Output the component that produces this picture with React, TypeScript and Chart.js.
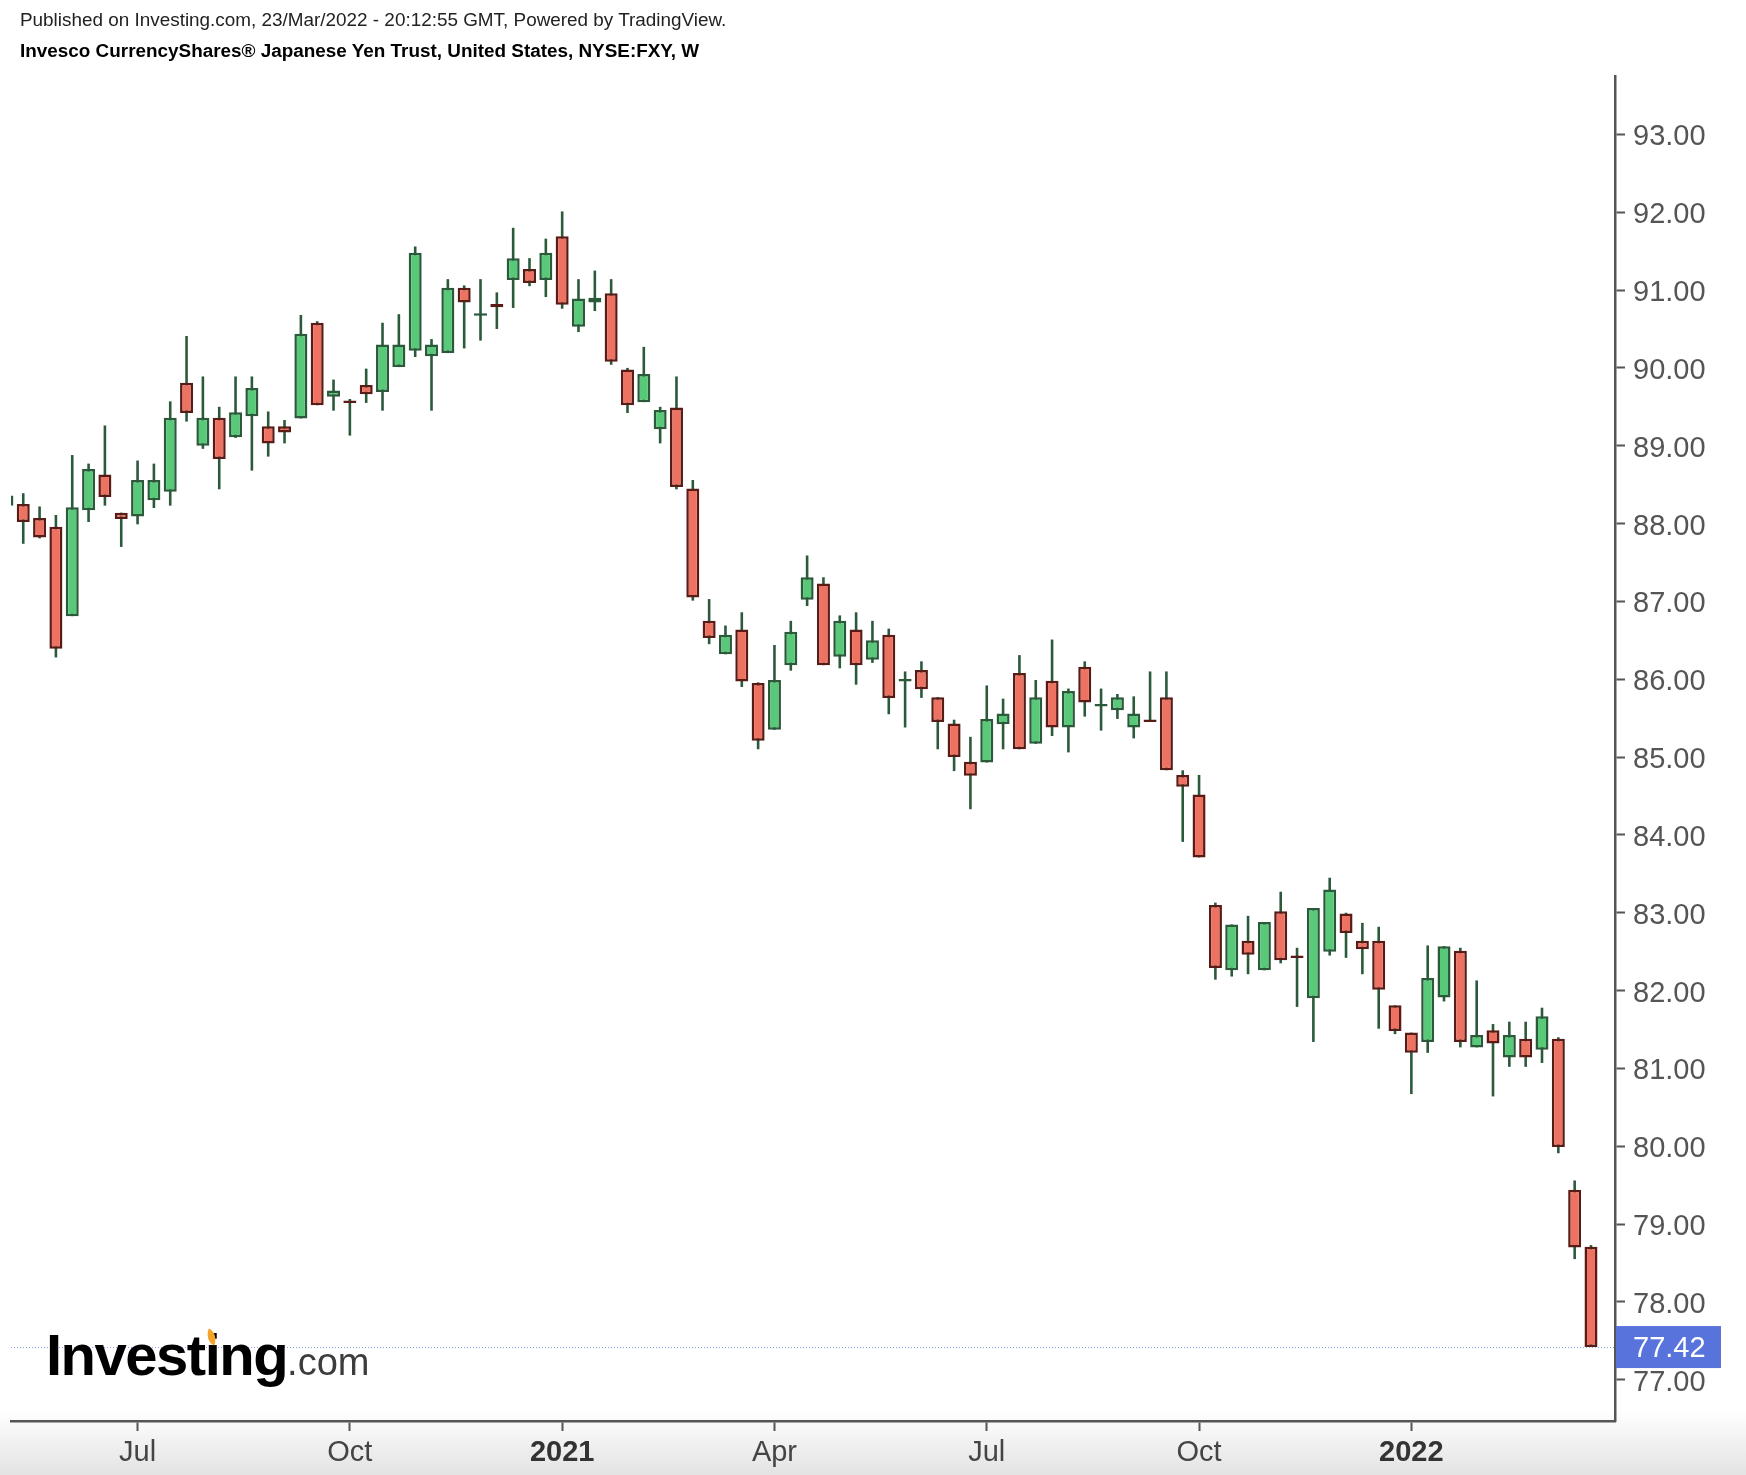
import React, { useEffect, useRef } from 'react';
import { Chart, registerables } from 'chart.js';

Chart.register(...registerables);

// Weekly bars, first bar = week of 11 May 2020, last bar = week of 21 Mar 2022
const firstWeek = '2020-05-11';
const openV = [
  88.23, 88.25, 88.07, 87.96, 86.81, 88.17, 88.63, 88.14, 88.09, 88.30,
  88.41, 89.81, 89.00, 89.36, 89.11, 89.38, 89.25, 89.25, 89.35, 90.58,
  89.63, 89.57, 89.78, 89.69, 90.01, 90.22, 90.15, 90.19, 91.03, 90.67,
  90.82, 91.13, 91.27, 91.13, 91.69, 90.53, 90.84, 90.96, 89.98, 89.56,
  89.21, 89.49, 88.45, 86.75, 86.32, 86.64, 85.95, 85.35, 86.18, 87.02,
  87.23, 86.29, 86.64, 86.25, 86.57, 85.97, 86.12, 85.77, 85.43, 84.94,
  84.93, 85.42, 86.08, 85.17, 85.98, 85.38, 86.16, 85.65, 85.60, 85.38,
  85.47, 85.77, 84.77, 84.52, 83.10, 82.26, 82.64, 82.26, 83.02, 82.44,
  81.90, 82.50, 82.99, 82.64, 82.64, 81.81, 81.46, 81.34, 81.91, 82.51,
  81.27, 81.49, 81.14, 81.38, 81.24, 81.38, 79.44, 78.71,
];
const highV = [
  88.40, 88.39, 88.22, 88.11, 88.88, 88.77, 89.26, 88.14, 88.81, 88.77,
  89.57, 90.41, 89.89, 89.50, 89.89, 89.89, 89.44, 89.33, 90.68, 90.60,
  89.85, 89.60, 89.99, 90.58, 90.69, 91.56, 90.37, 91.14, 91.06, 91.14,
  90.97, 91.80, 91.41, 91.66, 92.01, 91.14, 91.25, 91.14, 90.00, 90.27,
  89.50, 89.89, 88.56, 87.03, 86.69, 86.86, 85.96, 86.44, 86.75, 87.59,
  87.31, 86.82, 86.86, 86.75, 86.65, 86.10, 86.23, 85.77, 85.48, 85.26,
  85.92, 85.75, 86.31, 85.99, 86.51, 85.88, 86.23, 85.88, 85.81, 85.78,
  86.10, 86.10, 84.83, 84.77, 83.13, 82.85, 82.96, 82.88, 83.27, 82.55,
  83.06, 83.45, 83.00, 82.87, 82.82, 81.81, 81.46, 82.58, 82.57, 82.55,
  82.13, 81.57, 81.60, 81.60, 81.78, 81.40, 79.56, 78.73,
];
const lowV = [
  88.20, 87.74, 87.81, 86.28, 86.81, 88.02, 88.23, 87.70, 87.99, 88.20,
  88.23, 89.31, 88.96, 88.44, 89.10, 88.68, 88.86, 89.03, 89.35, 89.52,
  89.45, 89.13, 89.55, 89.45, 90.01, 90.14, 89.45, 90.19, 90.25, 90.35,
  90.50, 90.77, 91.05, 90.91, 90.76, 90.46, 90.73, 90.04, 89.42, 89.56,
  89.03, 88.44, 87.01, 86.45, 86.32, 85.90, 85.10, 85.35, 86.11, 86.94,
  86.18, 86.14, 85.93, 86.21, 85.55, 85.38, 85.76, 85.10, 84.82, 84.33,
  84.93, 85.10, 85.10, 85.17, 85.27, 85.06, 85.52, 85.34, 85.49, 85.24,
  85.45, 84.83, 83.91, 83.71, 82.14, 82.18, 82.21, 82.26, 82.35, 81.79,
  81.34, 82.45, 82.42, 82.21, 81.51, 81.44, 80.67, 81.20, 81.86, 81.27,
  81.27, 80.64, 81.02, 81.02, 81.07, 79.91, 78.55, 77.42,
];
const closeV = [
  88.36, 88.02, 87.82, 86.39, 88.21, 88.70, 88.34, 88.06, 88.56, 88.56,
  89.36, 89.42, 89.36, 88.83, 89.43, 89.74, 89.03, 89.17, 90.44, 89.52,
  89.71, 89.55, 89.66, 90.30, 90.30, 91.48, 90.30, 91.03, 90.84, 90.69,
  90.78, 91.41, 91.09, 91.48, 90.81, 90.89, 90.90, 90.08, 89.52, 89.92,
  89.46, 88.47, 87.05, 86.53, 86.57, 85.97, 85.21, 85.99, 86.61, 87.31,
  86.18, 86.75, 86.18, 86.50, 85.76, 85.99, 85.87, 85.45, 85.00, 84.76,
  85.49, 85.56, 85.10, 85.77, 85.38, 85.85, 85.70, 85.67, 85.77, 85.56,
  85.45, 84.83, 84.62, 83.71, 82.29, 82.85, 82.46, 82.88, 82.39, 82.42,
  83.06, 83.30, 82.74, 82.53, 82.01, 81.48, 81.20, 82.16, 82.57, 81.34,
  81.43, 81.32, 81.43, 81.14, 81.67, 79.99, 78.70, 77.42,
];

// x-axis tick labels (first weekly bar of each quarter) and y ticks
const tickWeeks = [8, 21, 34, 47, 60, 73, 86];
const tickLabels = ['Jul', 'Oct', '2021', 'Apr', 'Jul', 'Oct', '2022'];
const yTicks = [77, 78, 79, 80, 81, 82, 83, 84, 85, 86, 87, 88, 89, 90, 91, 92, 93];
const lastPrice = 77.42;

const headerLine1 = 'Published on Investing.com, 23/Mar/2022 - 20:12:55 GMT, Powered by TradingView.';
const headerLine2 = 'Invesco CurrencyShares® Japanese Yen Trust, United States, NYSE:FXY, W';

const FONT = "'Liberation Sans', Arial, Helvetica, sans-serif";
const UP_FILL = '#58c879';
const DOWN_FILL = '#ee7262';
const UP_BORDER = '#2a5a3a';
const DOWN_BORDER = '#581b15';
const WICK = '#2b5a3b';

const labelFor = (v: number) => {
  const k = tickWeeks.indexOf(Math.round(v));
  return k >= 0 ? tickLabels[k] : '';
};

const bgPlugin = {
  id: 'bgFill',
  beforeDraw(chart: any) {
    const { ctx, width, height } = chart;
    ctx.save();
    ctx.fillStyle = '#ffffff';
    ctx.fillRect(0, 0, width, height);
    const top = 1410;
    const g = ctx.createLinearGradient(0, top, 0, height);
    g.addColorStop(0, '#ffffff');
    g.addColorStop(1, '#e3e3e3');
    ctx.fillStyle = g;
    ctx.fillRect(0, top, width, height - top);
    ctx.restore();
  },
};

const pricePlugin = {
  id: 'lastPrice',
  beforeDatasetsDraw(chart: any) {
    const { ctx, chartArea } = chart;
    const y = Math.round(chart.scales.y.getPixelForValue(lastPrice)) + 0.5;
    ctx.save();
    ctx.strokeStyle = '#8a9cec';
    ctx.lineWidth = 1;
    ctx.setLineDash([1, 2]);
    ctx.beginPath();
    ctx.moveTo(chartArea.left, y);
    ctx.lineTo(chartArea.right, y);
    ctx.stroke();
    ctx.restore();
  },
  afterDraw(chart: any) {
    const { ctx, chartArea } = chart;
    const y = chart.scales.y.getPixelForValue(lastPrice);
    ctx.save();
    ctx.fillStyle = '#5874dc';
    ctx.fillRect(chartArea.right + 1, y - 21, 105, 42);
    ctx.fillStyle = '#ffffff';
    ctx.font = `29px ${FONT}`;
    ctx.textBaseline = 'middle';
    ctx.textAlign = 'left';
    ctx.fillText(lastPrice.toFixed(2), chartArea.right + 18, y + 2);
    ctx.restore();
  },
};

export default function App() {
  const canvasRef = useRef<HTMLCanvasElement | null>(null);

  useEffect(() => {
    if (!canvasRef.current) return;
    const idx = openV.map((_, i) => i);
    const up = idx.map((i) => closeV[i] >= openV[i]);
    const bodies = idx.map((i) => ({ x: i, y: [openV[i], closeV[i]] }));
    const wicks = idx.map((i) => ({ x: i, y: [lowV[i], highV[i]] }));

    const chart = new Chart(canvasRef.current, {
      type: 'bar',
      data: {
        datasets: [
          {
            label: 'body',
            data: bodies as any,
            backgroundColor: up.map((u) => (u ? UP_FILL : DOWN_FILL)),
            borderColor: up.map((u) => (u ? UP_BORDER : DOWN_BORDER)),
            borderWidth: 2.5,
            borderSkipped: false,
            barThickness: 13,
            minBarLength: 2.5,
            grouped: false,
            inflateAmount: 0,
            order: 0,
          } as any,
          {
            label: 'wick',
            data: wicks as any,
            backgroundColor: WICK,
            borderWidth: 0,
            barThickness: 2.6,
            grouped: false,
            inflateAmount: 0,
            order: 1,
          } as any,
        ],
      },
      options: {
        responsive: false,
        animation: false,
        devicePixelRatio: 1,
        layout: { padding: { left: 11, top: 76, right: 0, bottom: 0 } },
        plugins: {
          legend: { display: false },
          tooltip: { enabled: false },
          title: { display: false },
        },
        scales: {
          x: {
            type: 'linear',
            min: 0.25,
            max: 98.47,
            offset: false,
            grid: {
              display: true,
              drawOnChartArea: false,
              drawTicks: true,
              tickLength: 10,
              tickWidth: 2,
              tickColor: '#555555',
              offset: false,
            },
            border: { display: true, color: '#555555', width: 2.5 },
            afterBuildTicks: (s: any) => {
              s.ticks = tickWeeks.map((v) => ({ value: v }));
            },
            afterFit: (s: any) => {
              s.height = 54;
            },
            ticks: {
              autoSkip: false,
              maxRotation: 0,
              minRotation: 0,
              padding: 5,
              color: (c: any) => (/^\d{4}$/.test(labelFor(c.tick?.value ?? 0)) ? '#333333' : '#444444'),
              font: (c: any) => ({
                family: FONT,
                size: 29,
                weight: /^\d{4}$/.test(labelFor(c.tick?.value ?? 0)) ? 'bold' : 'normal',
              }),
              callback: (v: any) => labelFor(Number(v)),
            },
          } as any,
          y: {
            type: 'linear',
            position: 'right',
            min: 76.47,
            max: 93.75,
            grid: {
              display: true,
              drawOnChartArea: false,
              drawTicks: true,
              tickLength: 10,
              tickWidth: 2,
              tickColor: '#555555',
            },
            border: { display: true, color: '#555555', width: 2.5 },
            afterBuildTicks: (s: any) => {
              s.ticks = yTicks.map((v) => ({ value: v }));
            },
            afterFit: (s: any) => {
              s.width = 131;
            },
            ticks: {
              padding: 8,
              labelOffset: 3,
              color: '#555555',
              font: { family: FONT, size: 29 },
              callback: (v: any) => Number(v).toFixed(2),
            },
          } as any,
        },
      },
      plugins: [bgPlugin, pricePlugin],
    });
    return () => chart.destroy();
  }, []);

  return (
    <div style={{ position: 'absolute', left: 0, top: 0, width: 1746, height: 1475, overflow: 'hidden', background: '#fff' }}>
      <canvas ref={canvasRef} width={1746} height={1475} style={{ position: 'absolute', left: 0, top: 0, width: 1746, height: 1475 }} />
      <div style={{ position: 'absolute', left: 20, top: 10, fontFamily: FONT, fontSize: 18.9, lineHeight: '20px', color: '#222', whiteSpace: 'nowrap' }}>
        {headerLine1}
      </div>
      <div style={{ position: 'absolute', left: 20, top: 41, fontFamily: FONT, fontSize: 18.9, lineHeight: '20px', fontWeight: 'bold', color: '#000', whiteSpace: 'nowrap' }}>
        {headerLine2}
      </div>
      <div style={{ position: 'absolute', left: 46, top: 1326, fontFamily: FONT, lineHeight: '58px', whiteSpace: 'nowrap' }}>
        <span style={{ fontSize: 58, fontWeight: 'bold', color: '#000', letterSpacing: '-1.5px' }}>Investing</span>
        <span style={{ fontSize: 38, color: '#3d3d3d' }}>.com</span>
      </div>
      <div style={{ position: 'absolute', left: 206, top: 1330, width: 11, height: 14, background: '#f4a428', borderRadius: '0 100% 0 100%', transform: 'rotate(20deg)' }} />
    </div>
  );
}
